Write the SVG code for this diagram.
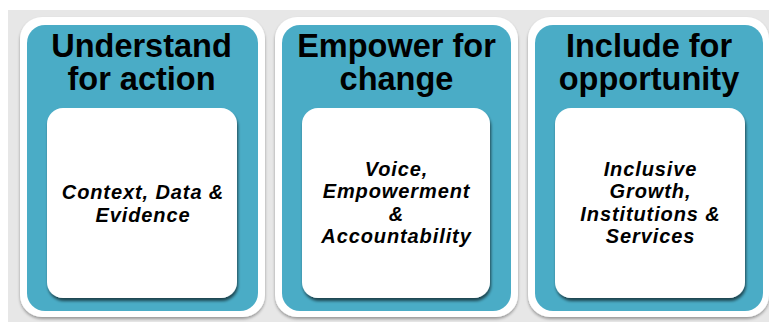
<svg xmlns="http://www.w3.org/2000/svg" width="769" height="322" viewBox="0 0 769 322">
  <defs>
    <filter id="outerShadow" x="-10%" y="-10%" width="120%" height="120%">
      <feGaussianBlur in="SourceAlpha" stdDeviation="1.5"/>
      <feOffset dx="0" dy="2" result="b"/>
      <feComponentTransfer><feFuncA type="linear" slope="0.35"/></feComponentTransfer>
      <feMerge><feMergeNode/><feMergeNode in="SourceGraphic"/></feMerge>
    </filter>
    <filter id="cardShadow" x="-10%" y="-10%" width="120%" height="120%">
      <feGaussianBlur in="SourceAlpha" stdDeviation="1.6"/>
      <feOffset dx="1" dy="2.5" result="b"/>
      <feComponentTransfer><feFuncA type="linear" slope="0.6"/></feComponentTransfer>
      <feMerge><feMergeNode/><feMergeNode in="SourceGraphic"/></feMerge>
    </filter>
  </defs>
  <style>
    .frame { fill: #ffffff; }
    .panel { fill: #4aacc6; }
    .card { fill: #ffffff; }
    .title { font-family: "Liberation Sans", Arial, sans-serif; font-weight: bold; font-size: 32.5px; fill: #000000; text-anchor: middle; }
    .body { font-family: "Liberation Sans", Arial, sans-serif; font-weight: bold; font-style: italic; font-size: 20px; letter-spacing: 0.9px; fill: #000000; text-anchor: middle; }
  </style>

  <!-- page background -->
  <rect x="0" y="0" width="769" height="322" fill="#ffffff"/>
  <rect x="8" y="10" width="761" height="312" fill="#e7e7e7"/>

  <g id="understand">
    <rect class="frame" x="20" y="17" width="245" height="300" rx="22" filter="url(#outerShadow)"/>
    <rect class="panel" x="27" y="25" width="231" height="286" rx="18"/>
    <text class="title" x="141.5" y="57">Understand</text>
    <text class="title" x="141.5" y="90">for action</text>
    <rect class="card" x="47" y="108" width="190" height="190" rx="16" filter="url(#cardShadow)"/>
    <text class="body" x="143" y="199">Context, Data &amp;</text>
    <text class="body" x="143" y="221.5">Evidence</text>
  </g>

  <g id="empower">
    <rect class="frame" x="275" y="17" width="243" height="300" rx="22" filter="url(#outerShadow)"/>
    <rect class="panel" x="282" y="25" width="229" height="286" rx="18"/>
    <text class="title" x="396.5" y="57">Empower for</text>
    <text class="title" x="396.5" y="90">change</text>
    <rect class="card" x="302" y="108" width="188" height="190" rx="16" filter="url(#cardShadow)"/>
    <text class="body" x="396.5" y="175.5">Voice,</text>
    <text class="body" x="396.5" y="198">Empowerment</text>
    <text class="body" x="396.5" y="220.5">&amp;</text>
    <text class="body" x="396.5" y="243">Accountability</text>
  </g>

  <g id="include">
    <rect class="frame" x="528" y="17" width="241" height="300" rx="22" filter="url(#outerShadow)"/>
    <rect class="panel" x="535" y="25" width="228" height="286" rx="18"/>
    <text class="title" x="649" y="57">Include for</text>
    <text class="title" x="649" y="90">opportunity</text>
    <rect class="card" x="555" y="108" width="190" height="190" rx="16" filter="url(#cardShadow)"/>
    <text class="body" x="650.5" y="175.5">Inclusive</text>
    <text class="body" x="650.5" y="198">Growth,</text>
    <text class="body" x="650.5" y="220.5">Institutions &amp;</text>
    <text class="body" x="650.5" y="243">Services</text>
  </g>

  <g id="connectors"/>
</svg>
